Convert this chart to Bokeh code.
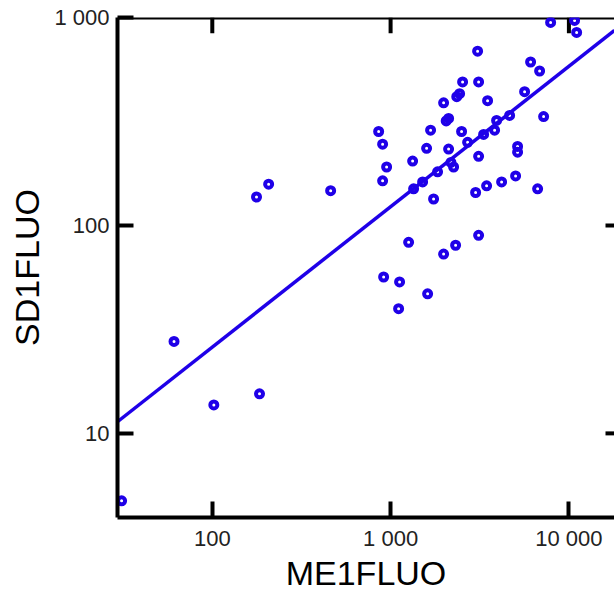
from bokeh.plotting import figure
from bokeh.models import FixedTicker, Range1d
from bokeh.embed import file_html
from bokeh.resources import INLINE
import numpy as np

# data
me1fluo = [31, 61, 102, 184, 177, 207, 461, 857, 902, 950, 902, 1329, 1592, 1346, 1512, 1742,
           1834, 1676, 1983, 2115, 2115, 2256, 2438, 2534, 3116, 3076, 3499, 2501, 2703, 3324,
           3116, 2998, 3455, 4194, 5024, 6677, 3831, 3931, 4650, 5155, 5155, 5644, 6098, 6851,
           7214, 7897, 10760, 11050, 3116, 2315, 1983, 1262, 914, 1123, 1613, 1109, 2350, 2050, 2180]
sd1fluo = [4.74, 27.7, 13.7, 15.5, 137, 158, 147, 283, 246, 191, 164, 204, 235, 150, 162, 134,
           181, 287, 389, 327, 233, 191, 430, 490, 490, 689, 398, 283, 251, 274, 215, 144, 155,
           162, 173, 150, 287, 320, 338, 240, 225, 440, 611, 553, 334, 947, 968, 848, 89.6, 80.3,
           72.8, 83, 56.5, 53.5, 46.9, 39.8, 416, 318, 201]

# fitted line in log-log space: log10(y) = fit_intercept + fit_slope * log10(x)
fit_slope = 0.675
fit_intercept = 0.065

x_ticks = [100, 1000, 10000]
x_tick_labels = ["100", "1 000", "10 000"]
y_ticks = [10, 100, 1000]
y_tick_labels = ["10", "100", "1 000"]

x_title = "ME1FLUO"
y_title = "SD1FLUO"

x_lo, x_hi = 29.4, 18020
y_lo, y_hi = 3.94, 1000

BLUE = "#1f00e8"
FONT = "Liberation Sans"

W, H = 614, 594
B_LEFT, B_TOP, B_BOTTOM, B_RIGHT = 117, 17, 72, 0
frame_w = W - B_LEFT - B_RIGHT
frame_h = H - B_TOP - B_BOTTOM
x_px_per_dec = frame_w / np.log10(x_hi / x_lo)
y_px_per_dec = frame_h / np.log10(y_hi / y_lo)

p = figure(width=W, height=H, x_axis_type="log", y_axis_type="log",
           x_range=Range1d(x_lo, x_hi), y_range=Range1d(y_lo, y_hi),
           output_backend="svg", toolbar_location=None,
           min_border_left=B_LEFT, min_border_top=B_TOP,
           min_border_bottom=B_BOTTOM, min_border_right=B_RIGHT)
p.outline_line_color = None
p.grid.visible = False
p.background_fill_color = "white"
p.border_fill_color = "white"

def style(ax, ticks, labels):
    ax.ticker = FixedTicker(ticks=ticks)
    ax.major_label_overrides = {t: l for t, l in zip(ticks, labels)}
    ax.minor_tick_line_color = None
    ax.major_tick_in = 16
    ax.major_tick_out = 0
    ax.major_tick_line_width = 4
    ax.major_tick_line_color = "black"
    ax.axis_line_width = 4
    ax.axis_line_color = "black"
    ax.major_label_text_font = FONT
    ax.major_label_text_font_size = "22px"
    ax.major_label_text_color = "#222222"
    ax.major_label_standoff = 8
    ax.axis_label_text_font = FONT
    ax.axis_label_text_font_size = "34px"
    ax.axis_label_text_font_style = "normal"
    ax.axis_label_text_color = "black"

style(p.xaxis[0], x_ticks, x_tick_labels)
style(p.yaxis[0], y_ticks, y_tick_labels)
p.xaxis[0].axis_label = x_title
p.xaxis[0].axis_label_standoff = 0
p.yaxis[0].axis_label = y_title
p.yaxis[0].axis_label_standoff = 5

# top spine: a line along the upper edge of the frame
p.line([x_lo, x_hi], [y_hi, y_hi], line_color="black", line_width=4)
# inward ticks on the top edge and on the (cut off) right edge
top_len = 10 ** (16 / y_px_per_dec)
p.segment(x0=x_ticks, y0=[y_hi] * 3, x1=x_ticks, y1=[y_hi / top_len] * 3,
          line_color="black", line_width=4)
right_len = 10 ** (9 / x_px_per_dec)
p.segment(x0=[x_hi] * 2, y0=y_ticks[:2], x1=[x_hi / right_len] * 2, y1=y_ticks[:2],
          line_color="black", line_width=4)

# regression line
xl = np.array([x_lo, x_hi])
yl = 10 ** (fit_intercept + fit_slope * np.log10(xl))
p.line(xl, yl, line_color=BLUE, line_width=3.5)

# points
p.scatter(me1fluo, sd1fluo, marker="circle", size=7, fill_color=None,
          line_color=BLUE, line_width=4)

open("out.html", "w").write(file_html(p, INLINE))
